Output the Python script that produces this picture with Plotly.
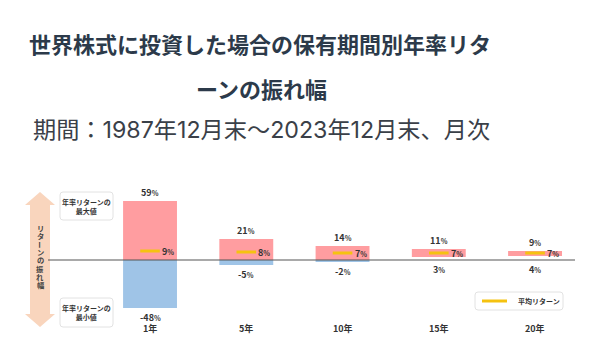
import plotly.graph_objects as go

# Holding period, and the best / worst / mean annualised return (%)
periods = ["1年", "5年", "10年", "15年", "20年"]
max_returns = [59, 21, 14, 11, 9]
min_returns = [-48, -5, -2, 3, 4]
avg_returns = [9, 8, 7, 7, 7]

title_lines = ["世界株式に投資した場合の保有期間別年率リタ", "ーンの振れ幅"]
subtitle = "期間：1987年12月末～2023年12月末、月次"
axis_caption = "リターンの振れ幅"
max_box_text = "年率リターンの<br>最大値"
min_box_text = "年率リターンの<br>最小値"
legend_text = "平均リターン"

PINK = "#FF9DA0"
BLUE = "#9FC4E7"
GOLD = "#F5C210"
PEACH = "#F9D5BD"
TEXT = "#333333"
NAVY = "#2C3A4A"
FONT = "Noto Sans CJK JP"
SUB_FONT = "Inter, Noto Sans CJK JP"

W, H = 600, 347
L, R, T, B = 48, 25, 190, 17
PW, PH = W - L - R, H - T - B


def px(x):
    return (x - L) / PW


def py(y):
    return (H - B - y) / PH


def rounded_rect(x0, y0, x1, y1, r=3):
    rx, ry = r / PW, r / PH
    a, b, c, d = px(x0), py(y1), px(x1), py(y0)
    return (f"M{a+rx},{b} L{c-rx},{b} Q{c},{b} {c},{b+ry} L{c},{d-ry} Q{c},{d} {c-rx},{d} "
            f"L{a+rx},{d} Q{a},{d} {a},{d-ry} L{a},{b+ry} Q{a},{b} {a+rx},{b} Z")


def note(x, y, text, size, color=TEXT, xanchor="center", weight="normal", family=FONT, **kw):
    return dict(x=px(x), y=py(y), xref="paper", yref="paper", text=text, showarrow=False,
                xanchor=xanchor, yanchor="middle",
                font=dict(size=size, color=color, family=family, weight=weight), **kw)


xs = list(range(len(periods)))
pos_base = [max(0, m) for m in min_returns]
pos_len = [mx - b for mx, b in zip(max_returns, pos_base)]
neg_vals = [m if m < 0 else None for m in min_returns]

fig = go.Figure()
fig.add_trace(go.Bar(x=xs, y=pos_len, base=pos_base, width=0.56,
                     marker=dict(color=PINK, line=dict(width=0)), hoverinfo="skip"))
fig.add_trace(go.Bar(x=xs, y=neg_vals, width=0.56,
                     marker=dict(color=BLUE, line=dict(width=0)), hoverinfo="skip"))
fig.add_trace(go.Scatter(x=xs, y=avg_returns, mode="markers",
                         marker=dict(symbol="line-ew", size=14,
                                     line=dict(color=GOLD, width=3)),
                         hoverinfo="skip"))

ann = []


def pct(v, small=7):
    return f"<b>{v}<span style='font-size:{small}px'>%</span></b>"


for i, (mx, mn, av) in enumerate(zip(max_returns, min_returns, avg_returns)):
    ann.append(dict(x=i, y=mx, xref="x", yref="y", text=pct(mx), showarrow=False,
                    xanchor="center", yanchor="bottom", yshift=0,
                    font=dict(size=9, color=TEXT, family=FONT)))
    ann.append(dict(x=i, y=min(mn, 0), xref="x", yref="y", text=pct(mn), showarrow=False,
                    xanchor="center", yanchor="top", yshift=-1,
                    font=dict(size=9, color=TEXT, family=FONT)))
    ann.append(dict(x=i, y=av, xref="x", yref="y", text=pct(av), showarrow=False,
                    xanchor="left", yanchor="middle", xshift=10,
                    font=dict(size=9, color=TEXT, family=FONT)))
    ann.append(dict(x=i, y=py(328), xref="x", yref="paper", text=f"<b>{periods[i]}</b>",
                    showarrow=False, xanchor="center", yanchor="middle",
                    font=dict(size=9, color=TEXT, family=FONT)))

# Titles
ann.append(note(260, 43, title_lines[0], 22, NAVY, weight="bold"))
ann.append(note(261, 88, title_lines[1], 22, NAVY, weight="bold"))
ann.append(note(261, 130, subtitle, 23.2, "#3A4048", family=SUB_FONT))

# Vertical caption beside the double arrow
for k, ch in enumerate(axis_caption):
    ann.append(note(40, 228 + 8.1 * k, f"<b>{ch}</b>", 7.3, "#444444",
                    textangle=90 if ch == "ー" else 0))

# Box captions and legend text
ann.append(note(86.5, 206, f"<b>{max_box_text}</b>", 7))
ann.append(note(86.5, 312.5, f"<b>{min_box_text}</b>", 7))
ann.append(note(516, 301, f"<b>{legend_text}</b>", 7, xanchor="left"))

arrow_pts = [(40, 192), (55, 205), (50, 205), (50, 314), (55, 314), (40, 327),
             (25, 314), (30, 314), (30, 205), (25, 205)]
arrow_path = "M" + " L".join(f"{px(a)},{py(b)}" for a, b in arrow_pts) + " Z"

shapes = [
    dict(type="path", path=arrow_path, xref="paper", yref="paper",
         fillcolor=PEACH, line=dict(width=0), layer="below"),
    dict(type="path", path=rounded_rect(60, 192, 113, 220), xref="paper", yref="paper",
         fillcolor="white", line=dict(color="#E2E2E2", width=1)),
    dict(type="path", path=rounded_rect(60, 298, 113, 327), xref="paper", yref="paper",
         fillcolor="white", line=dict(color="#E2E2E2", width=1)),
    dict(type="path", path=rounded_rect(475, 292, 563, 310), xref="paper", yref="paper",
         fillcolor="white", line=dict(color="#E2E2E2", width=1)),
    dict(type="line", x0=px(482), x1=px(507), y0=py(301), y1=py(301), xref="paper", yref="paper",
         line=dict(color=GOLD, width=3)),
    dict(type="line", x0=0, x1=1, y0=0, y1=0, xref="paper", yref="y",
         line=dict(color="#555555", width=1.2), layer="above"),
]

fig.update_layout(
    width=W, height=H,
    margin=dict(l=L, r=R, t=T, b=B),
    paper_bgcolor="white", plot_bgcolor="white",
    barmode="overlay", showlegend=False,
    xaxis=dict(range=[-1.06, 4.415], visible=False, fixedrange=True),
    yaxis=dict(range=[-70, 70], visible=False, fixedrange=True),
    annotations=ann, shapes=shapes,
)

fig.write_html("out.html")
